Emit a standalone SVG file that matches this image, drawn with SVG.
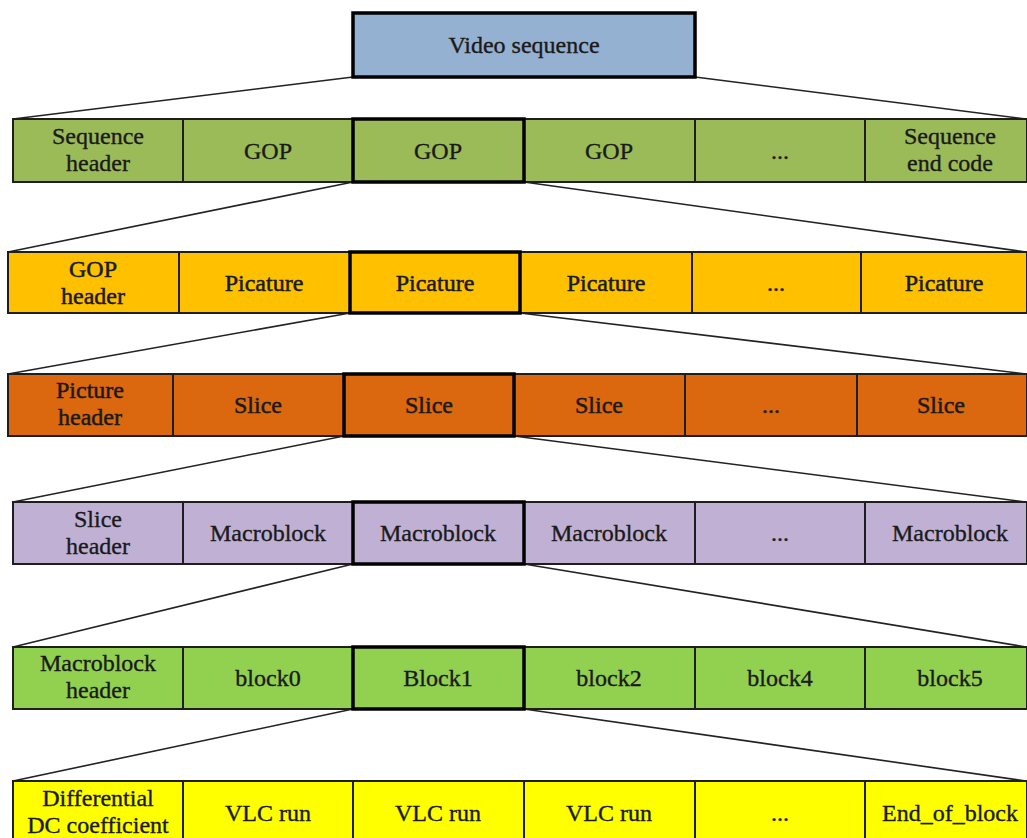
<svg xmlns="http://www.w3.org/2000/svg" width="1027" height="838" viewBox="0 0 1027 838">
<style>
rect{stroke:#1e1e1e;stroke-width:2}
rect.hl{stroke:#000;stroke-width:3.5}
.r0{fill:#95B1D2}.r1{fill:#9BBB59}.r2{fill:#FFC000}.r3{fill:#DB670E}.r4{fill:#C0B1D4}.r5{fill:#92D050}.r6{fill:#FFFF00}
text{font-family:'Liberation Serif',serif;font-size:24px;fill:#1a1a1a;stroke:#1a1a1a;stroke-width:0.35;text-anchor:middle}
.b text{stroke-width:0.5}
.c line{stroke:#222;stroke-width:1.6}
</style>
<rect width="1027" height="838" fill="#fff" style="stroke:none"/>
<g class="c" id="connectors">
<line x1="353" y1="77" x2="13" y2="119"/><line x1="695" y1="77" x2="1026" y2="119"/>
<line x1="353" y1="182" x2="8" y2="252"/><line x1="524" y1="182" x2="1026" y2="252"/>
<line x1="350" y1="313" x2="8" y2="374"/><line x1="520" y1="313" x2="1026" y2="374"/>
<line x1="344" y1="436" x2="13" y2="502"/><line x1="514" y1="436" x2="1026" y2="502"/>
<line x1="353" y1="564" x2="13" y2="647"/><line x1="524" y1="564" x2="1026" y2="647"/>
<line x1="353" y1="709" x2="13" y2="781"/><line x1="524" y1="709" x2="1026" y2="781"/>
</g>
<g font-family="Liberation Serif, serif">
<g id="video-sequence"><rect class="r0 hl" x="353" y="13" width="342" height="64"/><text x="524" y="53">Video sequence</text></g>

<g id="seq-header"><rect class="r1" x="13" y="119" width="170" height="63"/><text x="98" y="144">Sequence</text><text x="98" y="171">header</text></g>
<g id="gop-1"><rect class="r1" x="183" y="119" width="170" height="63"/><text x="268" y="159">GOP</text></g>
<g id="gop-2"><rect class="r1" x="524" y="119" width="171" height="63"/><text x="609" y="159">GOP</text></g>
<g id="gop-dots"><rect class="r1" x="695" y="119" width="170" height="63"/><text x="780" y="159">...</text></g>
<g id="seq-end"><rect class="r1" x="865" y="119" width="162" height="63"/><text x="950" y="144">Sequence</text><text x="950" y="171">end code</text></g>
<g id="gop-sel"><rect class="r1 hl" x="353" y="119" width="171" height="63"/><text x="438" y="159">GOP</text></g>

<g class="b">
<g id="gop-header"><rect class="r2" x="8" y="252" width="171" height="61"/><text x="93" y="277">GOP</text><text x="93" y="304">header</text></g>
<g id="pic-1"><rect class="r2" x="179" y="252" width="171" height="61"/><text x="264" y="291">Picature</text></g>
<g id="pic-3"><rect class="r2" x="520" y="252" width="172" height="61"/><text x="606" y="291">Picature</text></g>
<g id="pic-dots"><rect class="r2" x="692" y="252" width="169" height="61"/><text x="776" y="291">...</text></g>
<g id="pic-4"><rect class="r2" x="861" y="252" width="166" height="61"/><text x="944" y="291">Picature</text></g>
<g id="pic-sel"><rect class="r2 hl" x="350" y="252" width="170" height="61"/><text x="435" y="291">Picature</text></g>

<g id="pic-header"><rect class="r3" x="8" y="374" width="165" height="62"/><text x="90" y="398">Picture</text><text x="90" y="425">header</text></g>
<g id="slice-1"><rect class="r3" x="173" y="374" width="171" height="62"/><text x="258" y="413">Slice</text></g>
<g id="slice-3"><rect class="r3" x="514" y="374" width="171" height="62"/><text x="599" y="413">Slice</text></g>
<g id="slice-dots"><rect class="r3" x="685" y="374" width="172" height="62"/><text x="771" y="413">...</text></g>
<g id="slice-4"><rect class="r3" x="857" y="374" width="170" height="62"/><text x="941" y="413">Slice</text></g>
<g id="slice-sel"><rect class="r3 hl" x="344" y="374" width="170" height="62"/><text x="429" y="413">Slice</text></g>
</g>

<g id="slice-header"><rect class="r4" x="13" y="502" width="170" height="62"/><text x="98" y="527">Slice</text><text x="98" y="554">header</text></g>
<g id="mb-1"><rect class="r4" x="183" y="502" width="170" height="62"/><text x="268" y="541">Macroblock</text></g>
<g id="mb-3"><rect class="r4" x="524" y="502" width="171" height="62"/><text x="609" y="541">Macroblock</text></g>
<g id="mb-dots"><rect class="r4" x="695" y="502" width="170" height="62"/><text x="780" y="541">...</text></g>
<g id="mb-4"><rect class="r4" x="865" y="502" width="162" height="62"/><text x="950" y="541">Macroblock</text></g>
<g id="mb-sel"><rect class="r4 hl" x="353" y="502" width="171" height="62"/><text x="438" y="541">Macroblock</text></g>

<g id="mb-header"><rect class="r5" x="13" y="647" width="170" height="62"/><text x="98" y="671">Macroblock</text><text x="98" y="698">header</text></g>
<g id="block0"><rect class="r5" x="183" y="647" width="170" height="62"/><text x="268" y="686">block0</text></g>
<g id="block2"><rect class="r5" x="524" y="647" width="171" height="62"/><text x="609" y="686">block2</text></g>
<g id="block4"><rect class="r5" x="695" y="647" width="170" height="62"/><text x="780" y="686">block4</text></g>
<g id="block5"><rect class="r5" x="865" y="647" width="162" height="62"/><text x="950" y="686">block5</text></g>
<g id="block1"><rect class="r5 hl" x="353" y="647" width="171" height="62"/><text x="438" y="686">Block1</text></g>

<g id="dc-coef"><rect class="r6" x="13" y="781" width="170" height="64"/><text x="98" y="806">Differential</text><text x="98" y="833">DC coefficient</text></g>
<g id="vlc-1"><rect class="r6" x="183" y="781" width="170" height="64"/><text x="268" y="821">VLC run</text></g>
<g id="vlc-2"><rect class="r6" x="353" y="781" width="171" height="64"/><text x="438" y="821">VLC run</text></g>
<g id="vlc-3"><rect class="r6" x="524" y="781" width="171" height="64"/><text x="609" y="821">VLC run</text></g>
<g id="vlc-dots"><rect class="r6" x="695" y="781" width="170" height="64"/><text x="780" y="821">...</text></g>
<g id="end-block"><rect class="r6" x="865" y="781" width="162" height="64"/><text x="950" y="821">End_of_block</text></g>
</g>
</svg>
